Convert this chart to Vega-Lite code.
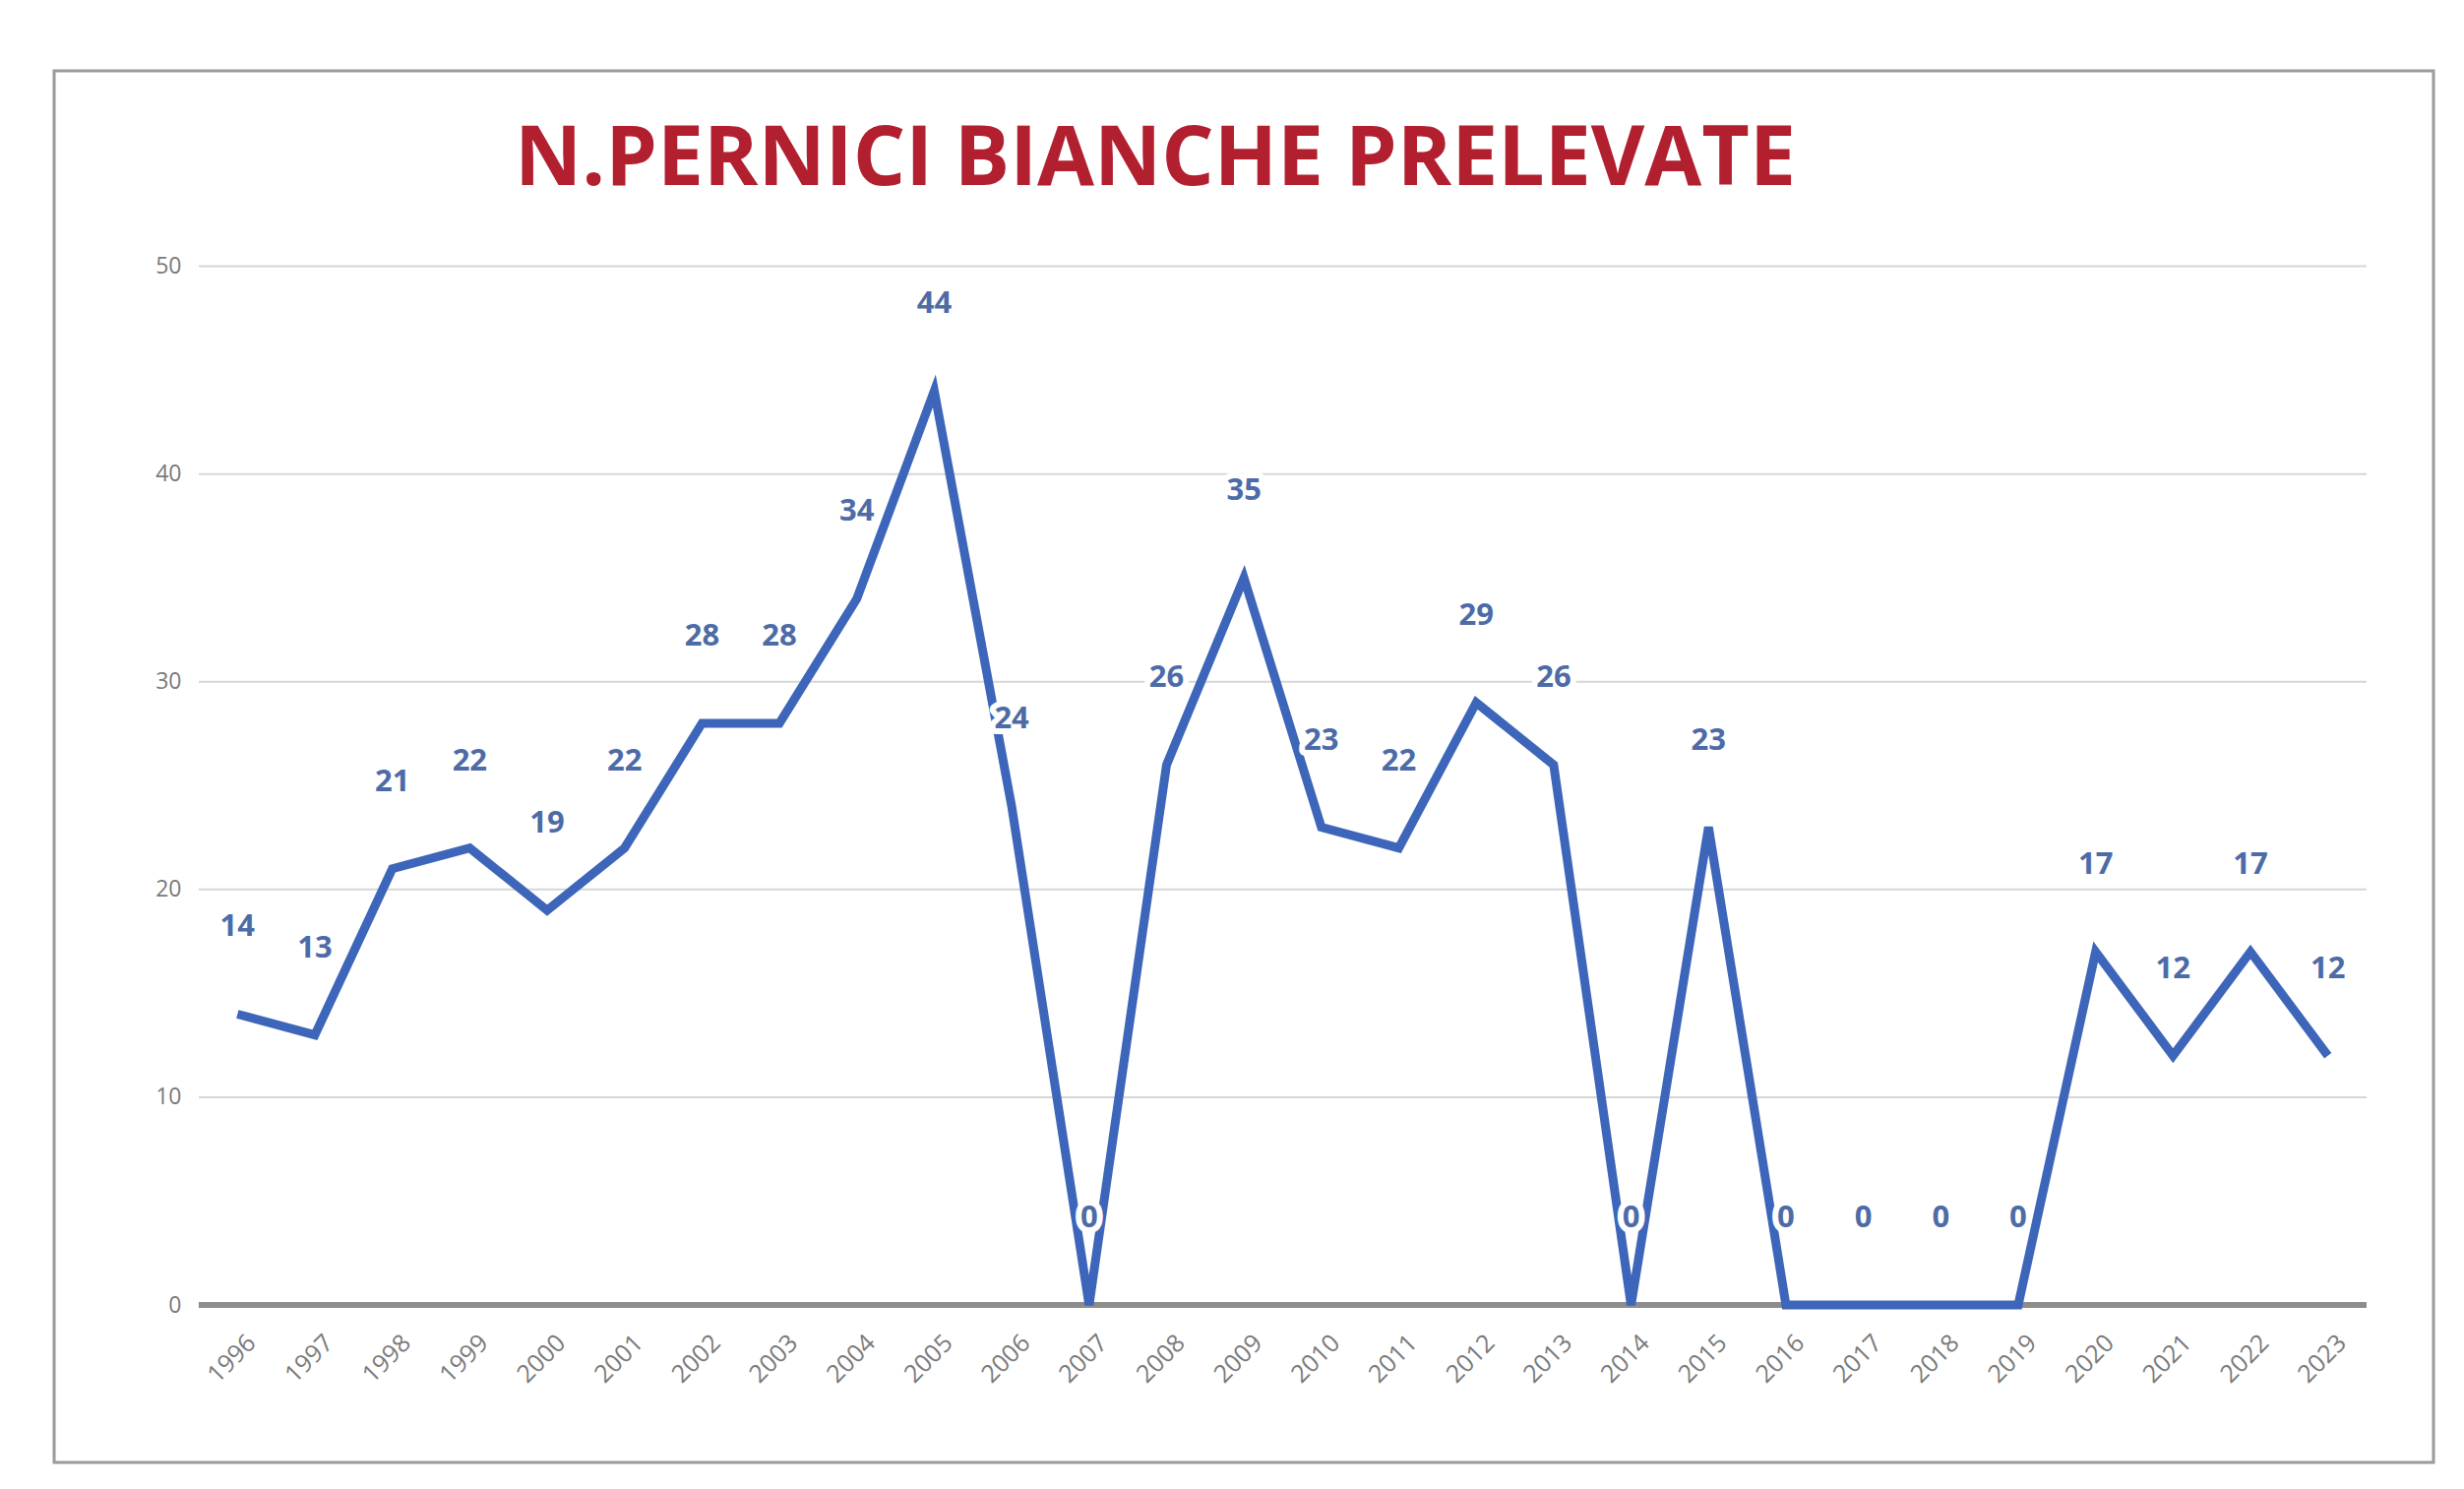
{
  "$schema": "https://vega.github.io/schema/vega-lite/v6.json",
  "width": 2418,
  "height": 1414,
  "autosize": {"type": "none"},
  "padding": {"left": 55, "top": 72, "right": 31, "bottom": 27},
  "background": "white",
  "config": {"view": {"stroke": "#9a9a9a", "strokeWidth": 3}, "font": "Open Sans"},
  "title": {
    "text": "N.PERNICI BIANCHE PRELEVATE",
    "font": "Open Sans",
    "fontSize": 84,
    "fontWeight": "bold",
    "color": "#B22030",
    "anchor": "middle",
    "dx": -90,
    "offset": -200,
    "baseline": "alphabetic"
  },
  "data": {
    "values": [
      {"year": 1996, "n": 14}, {"year": 1997, "n": 13}, {"year": 1998, "n": 21},
      {"year": 1999, "n": 22}, {"year": 2000, "n": 19}, {"year": 2001, "n": 22},
      {"year": 2002, "n": 28}, {"year": 2003, "n": 28}, {"year": 2004, "n": 34},
      {"year": 2005, "n": 44}, {"year": 2006, "n": 24}, {"year": 2007, "n": 0},
      {"year": 2008, "n": 26}, {"year": 2009, "n": 35}, {"year": 2010, "n": 23},
      {"year": 2011, "n": 22}, {"year": 2012, "n": 29}, {"year": 2013, "n": 26},
      {"year": 2014, "n": 0}, {"year": 2015, "n": 23}, {"year": 2016, "n": 0},
      {"year": 2017, "n": 0}, {"year": 2018, "n": 0}, {"year": 2019, "n": 0},
      {"year": 2020, "n": 17}, {"year": 2021, "n": 12}, {"year": 2022, "n": 17},
      {"year": 2023, "n": 12}
    ]
  },
  "layer": [
    {
      "data": {"values": [{"g": 10}, {"g": 20}, {"g": 30}, {"g": 40}, {"g": 50}]},
      "mark": {"type": "rule", "color": "#d6d6d6", "strokeWidth": 2},
      "encoding": {
        "y": {"field": "g", "type": "quantitative"},
        "x": {"datum": 1995.5, "type": "quantitative"},
        "x2": {"datum": 2023.5}
      }
    },
    {
      "data": {"values": [{}]},
      "mark": {"type": "rule", "color": "#8c8c8c", "strokeWidth": 6},
      "encoding": {
        "y": {"datum": 0, "type": "quantitative"},
        "x": {"datum": 1995.5, "type": "quantitative"},
        "x2": {"datum": 2023.5}
      }
    },
    {
      "mark": {"type": "line", "color": "#3D66BA", "strokeWidth": 9},
      "encoding": {
        "x": {
          "field": "year",
          "type": "quantitative",
          "scale": {"domain": [1993.632, 2024.364], "nice": false, "zero": false},
          "axis": {
            "title": null,
            "values": [1996, 1997, 1998, 1999, 2000, 2001, 2002, 2003, 2004, 2005, 2006, 2007, 2008, 2009, 2010, 2011, 2012, 2013, 2014, 2015, 2016, 2017, 2018, 2019, 2020, 2021, 2022, 2023],
            "format": "d",
            "labelAngle": -45,
            "labelAlign": "right",
            "labelBaseline": "middle",
            "labelOffset": 14,
            "labelPadding": 34,
            "offset": -160,
            "domain": false,
            "ticks": false,
            "grid": false,
            "labelOverlap": false,
            "labelFlush": false,
            "labelFontSize": 25,
            "labelFont": "Open Sans",
            "labelColor": "#7a7a7a"
          }
        },
        "y": {
          "field": "n",
          "type": "quantitative",
          "scale": {"domain": [-7.58, 59.41], "nice": false, "zero": false},
          "axis": {
            "title": null,
            "values": [0, 10, 20, 30, 40, 50],
            "domain": false,
            "ticks": false,
            "grid": false,
            "offset": -139,
            "labelPadding": 10,
            "labelFontSize": 23,
            "labelFont": "Open Sans",
            "labelColor": "#7a7a7a"
          }
        }
      }
    },
    {
      "mark": {"type": "text", "dy": -88, "fontSize": 31, "fontWeight": "bold", "font": "Open Sans", "color": "white", "stroke": "white", "strokeWidth": 12, "strokeJoin": "round"},
      "encoding": {
        "x": {"field": "year", "type": "quantitative"},
        "y": {"field": "n", "type": "quantitative"},
        "text": {"field": "n", "type": "quantitative"}
      }
    },
    {
      "mark": {"type": "text", "dy": -88, "fontSize": 31, "fontWeight": "bold", "font": "Open Sans", "color": "#4D6BA6"},
      "encoding": {
        "x": {"field": "year", "type": "quantitative"},
        "y": {"field": "n", "type": "quantitative"},
        "text": {"field": "n", "type": "quantitative"}
      }
    }
  ]
}
